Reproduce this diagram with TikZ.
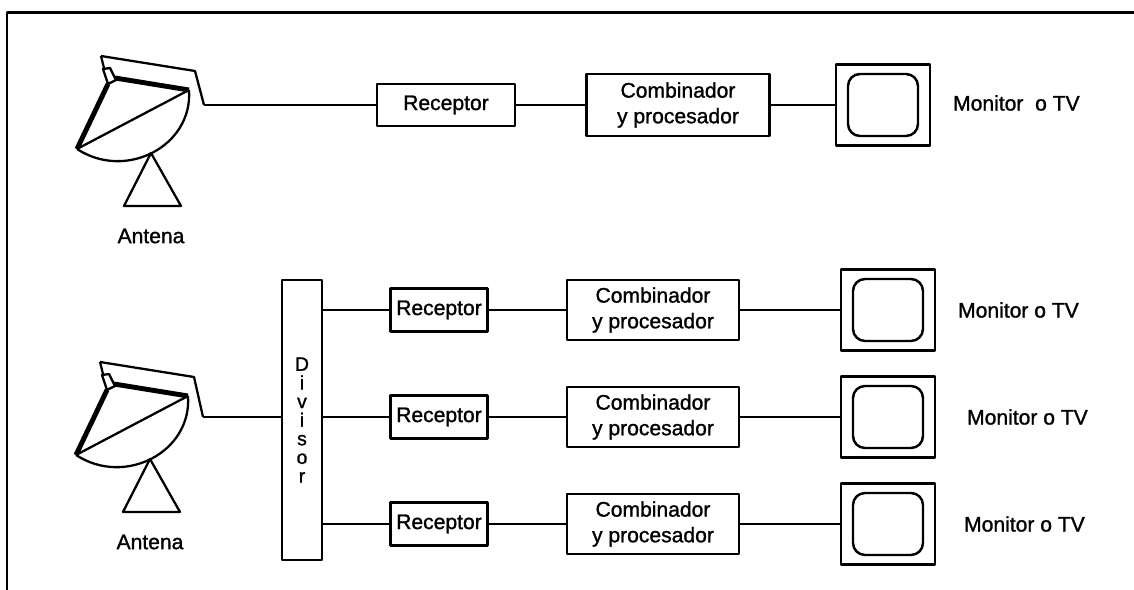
\documentclass[tikz,border=0pt]{standalone}
\usepackage{fontspec}
\setmainfont{Liberation Sans}[BoldFont=Liberation Sans, BoldFeatures={FakeBold=1.2}]
\tikzset{
  wire/.style={line width=1.3pt},
  rim/.style={line width=2.8pt},
  frame/.style={line width=1.7pt},
  box/.style={draw, line width=1.4pt, inner sep=2pt, align=center,
    font=\fontsize{12}{14.6}\selectfont\bfseries},
  rec-top/.style={box, minimum width=2.76cm, minimum height=0.84cm},
  rec/.style={box, minimum width=1.94cm, minimum height=0.86cm},
  comb-top/.style={box, minimum width=3.66cm, minimum height=1.24cm},
  comb/.style={box, minimum width=3.44cm, minimum height=1.2cm},
  divbox/.style={box, minimum width=0.8cm, minimum height=5.6cm,
    font=\fontsize{11}{10.6}\selectfont\bfseries},
  monitor/.style={draw, line width=1.4pt, minimum width=1.88cm, minimum height=1.62cm},
  screen/.style={draw, line width=1.4pt, rounded corners=0.24cm,
    minimum width=1.4cm, minimum height=1.24cm},
  txt/.style={inner sep=0pt, font=\fontsize{12}{14}\selectfont\bfseries}
}
% dish antenna: #1 name, #2 tip of the boom, #3 drop of the cable
\newcommand{\antena}[3]{
  \begin{scope}[shift={#2}]
    \draw (0,0) -- (94,15) coordinate (#1-k) -- ++(9,#3) coordinate (#1-out);
    % feed horn
    \draw (0,0) -- (3,12);
    \draw (2,13) -- (9,12) -- (15,24) -- (7,28) -- cycle;
    % dish
    \draw[rim] (14,22) -- (88,34);
    \draw[rim] (7,28) -- (-24,93);
    \draw (-24,93) -- (88,34);
    \draw (88,34) .. controls (92,90) and (25,125) .. (-24,93);
    % stand
    \draw (50,97) -- (23,150) -- (80,150) -- cycle;
    \node[txt] (#1-lbl) at (50,180) {Antena};
  \end{scope}
}

\begin{document}
\begin{tikzpicture}[x=0.02cm, y=-0.02cm, line join=round, wire]
  \useasboundingbox (0,0) rectangle (1134,590);
  \draw[frame] (1134,13) -- (7,13) -- (7,590);

  % single receiver
  \antena{ant0}{(101,56)}{34}
  \node[rec-top] (rec0) at (446,105) {Receptor};
  \node[comb-top] (comb0) at (678,105) {Combinador\\y procesador};
  \node[monitor] (mon0) at (883,105) {};
  \node[screen] (scr0) at (mon0) {};
  \node[txt, anchor=west] (tv0) at (952,103) {Monitor~~o TV};
  \draw (ant0-out) -- (rec0.west);
  \draw (rec0) -- (comb0);
  \draw (comb0) -- (mon0);

  % three receivers behind a splitter
  \antena{ant1}{(100,362)}{40}
  \node[divbox] (div) at (302,420) {D\\i\\v\\i\\s\\o\\r};
  \draw (ant1-out) -- (div.west |- ant1-out);
  \foreach \i/\y/\tx in {1/310/957, 2/417/966, 3/524/963}{
    \node[rec] (rec\i) at (439,\y) {Receptor};
    \node[comb] (comb\i) at (653,\y) {Combinador\\y procesador};
    \node[monitor] (mon\i) at (888,\y) {};
    \node[screen] (scr\i) at (mon\i) {};
    \node[txt, anchor=west] (tv\i) at (\tx,\y) {Monitor o TV};
    \draw (div.east |- rec\i.west) -- (rec\i.west);
    \draw (rec\i) -- (comb\i);
    \draw (comb\i) -- (mon\i);
  }
\end{tikzpicture}
\end{document}
